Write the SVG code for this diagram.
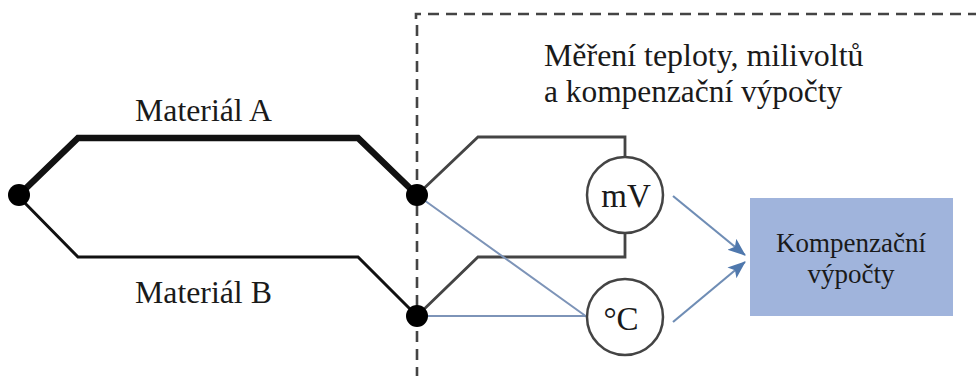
<svg xmlns="http://www.w3.org/2000/svg" width="976" height="376" viewBox="0 0 976 376">
<style>
.t{font-family:"Liberation Serif",serif;fill:#1a1a1a}
.w{fill:none;stroke:#111;stroke-linejoin:miter}
.g{fill:none;stroke:#444;stroke-width:2.8}
.b{fill:none;stroke:#7d94b8;stroke-width:2}
.a{fill:none;stroke:#6f8db5;stroke-width:2.2;marker-end:url(#ah)}
.d{fill:#000}
.c{fill:#fff;stroke:#444;stroke-width:2.5}
.k{fill:none;stroke:#444;stroke-width:2.6}
</style>
<defs>
<marker id="ah" markerUnits="userSpaceOnUse" markerWidth="20" markerHeight="16" refX="17" refY="7" orient="auto">
<path d="M0 0L18 7L0 14L4 7Z" fill="#4f78ad"/>
</marker>
</defs>
<rect width="976" height="376" fill="#fff"/>
<g id="connectors">
<path class="k" d="M416 19V14H421"/>
<path class="k" stroke-dasharray="11 7" d="M428 14H976"/>
<path class="k" stroke-dasharray="11 7" d="M417 25V376"/>
<path class="w" stroke-width="6.5" d="M18 196L78 138H358L417 195"/>
<path class="w" stroke-width="3" d="M18 196L78 257H358L417 316"/>
<path class="g" d="M417 195L478 137H625V157"/>
<path class="g" d="M417 316L478 257H625V233"/>
<path class="b" d="M417 195L587 317M417 316H587"/>
<path class="a" d="M673 196L745 255"/>
<path class="a" d="M673 322L745 262"/>
</g>
<g id="junction-left"><circle class="d" cx="19" cy="195" r="11"/></g>
<g id="junction-top"><circle class="d" cx="417" cy="195" r="11"/></g>
<g id="junction-bottom"><circle class="d" cx="417" cy="316" r="11"/></g>
<g id="label-a"><text class="t" x="135" y="121" font-size="31.8">Materiál A</text></g>
<g id="label-b"><text class="t" x="135" y="303" font-size="31.8">Materiál B</text></g>
<g id="heading"><text class="t" x="544" y="66" font-size="31.9">Měření teploty, milivoltů</text><text class="t" x="544" y="102" font-size="31.4">a kompenzační výpočty</text></g>
<g id="mv"><circle class="c" cx="625" cy="195" r="38"/><text class="t" x="626" y="207" font-size="33" text-anchor="middle">mV</text></g>
<g id="deg"><circle class="c" cx="625" cy="317" r="38"/><text class="t" x="621" y="330" font-size="33" text-anchor="middle">°C</text></g>
<g id="box"><rect x="750" y="198" width="203" height="118" fill="#a0b4dc"/><text class="t" x="851" y="252" font-size="27" text-anchor="middle">Kompenzační</text><text class="t" x="851" y="283" font-size="27" text-anchor="middle">výpočty</text></g>
</svg>
